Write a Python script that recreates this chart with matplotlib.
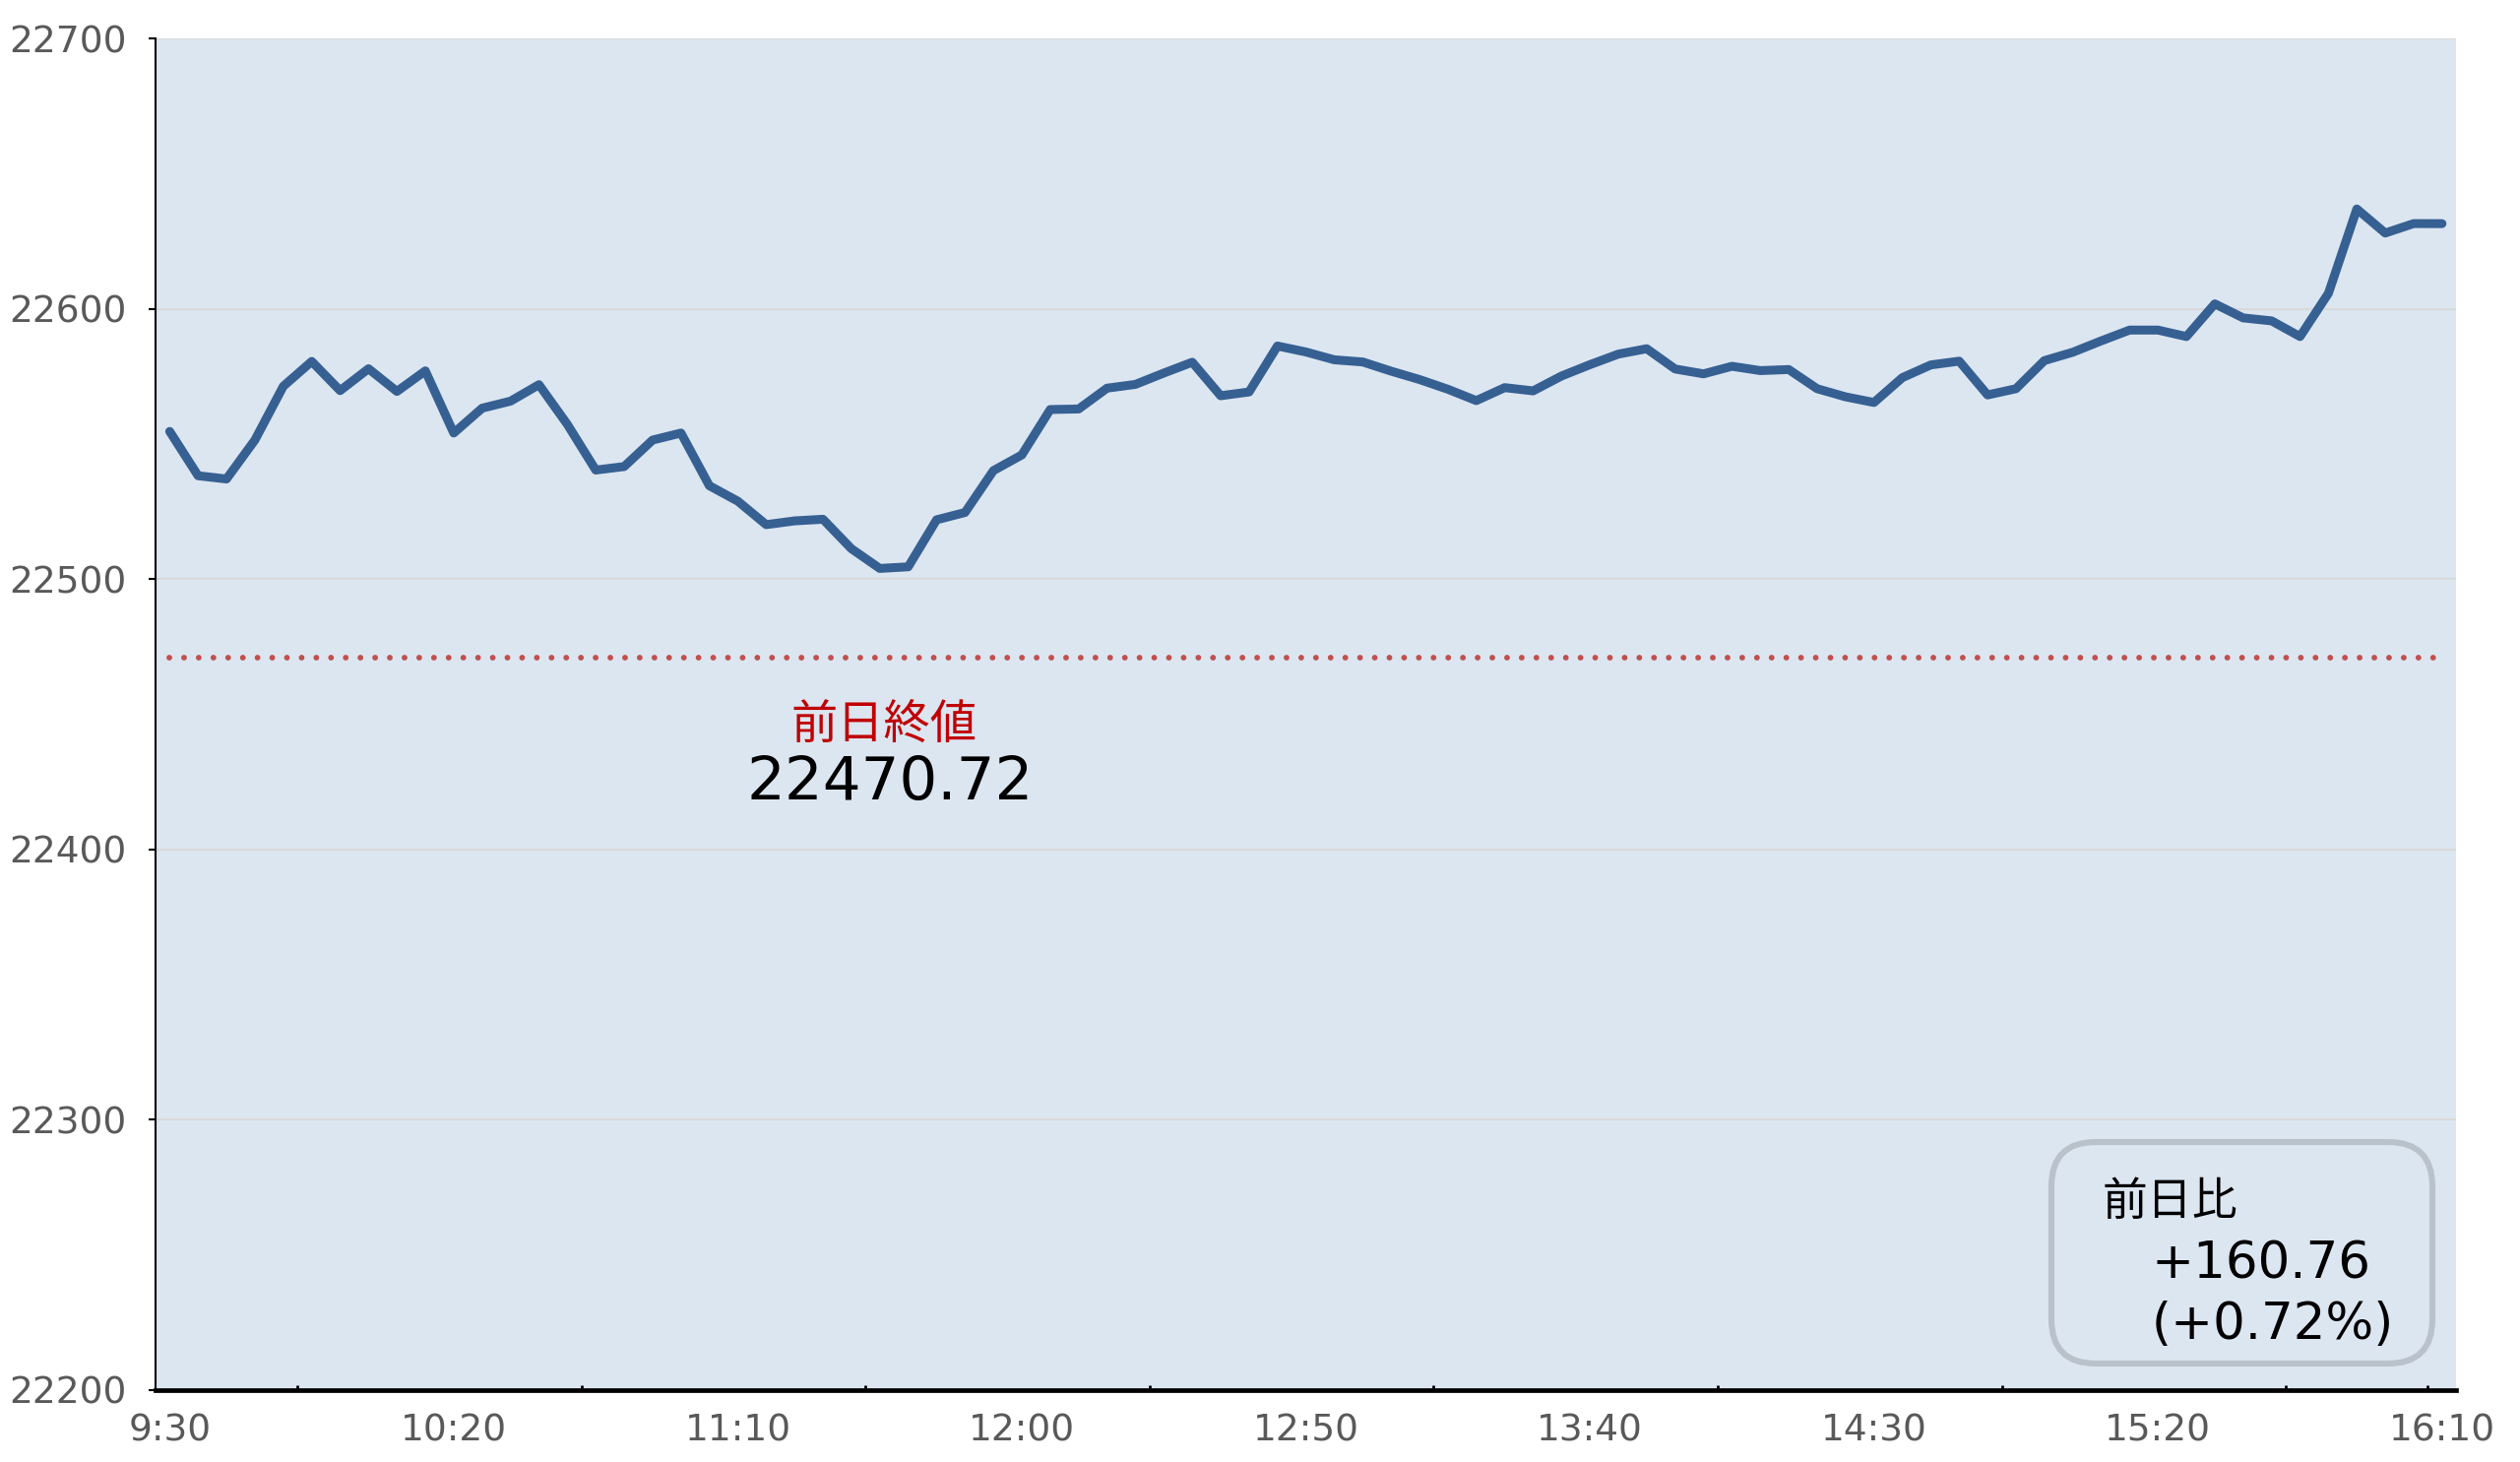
import matplotlib
matplotlib.use("Agg")
import matplotlib.pyplot as plt
from matplotlib.patches import FancyBboxPatch

plt.rcParams['font.family'] = ['DejaVu Sans', 'Noto Sans CJK JP']

# 5-minute index values, 9:30 .. 16:10
values = [
    22554.6, 22538.2, 22537.0, 22551.4, 22571.3, 22580.5, 22569.7, 22577.8, 22569.4, 22577.0,
    22554.0, 22563.2, 22565.8, 22571.9, 22557.2, 22540.3, 22541.6, 22551.4, 22554.0, 22534.5,
    22528.8, 22520.1, 22521.5, 22522.1, 22511.2, 22503.9, 22504.5, 22521.9, 22524.6, 22540.1,
    22545.9, 22562.7, 22562.9, 22570.6, 22572.0, 22576.2, 22580.2, 22567.8, 22569.2, 22586.2,
    22584.0, 22581.1, 22580.3, 22576.9, 22573.8, 22570.2, 22566.0, 22570.8, 22569.6, 22575.1,
    22579.3, 22583.2, 22585.2, 22577.7, 22575.9, 22578.7, 22577.1, 22577.5, 22570.4, 22567.4,
    22565.3, 22574.5, 22579.2, 22580.6, 22568.1, 22570.4, 22580.8, 22583.9, 22588.1, 22592.1,
    22592.1, 22589.7, 22601.8, 22596.6, 22595.5, 22589.7, 22605.7, 22636.9, 22628.0, 22631.5,
    22631.48,
]
tick_labels = ['9:30', '10:20', '11:10', '12:00', '12:50', '13:40', '14:30', '15:20', '16:10']
y_ticks = [22200, 22300, 22400, 22500, 22600, 22700]
prev_close = 22470.72
change = 160.76
change_pct = 0.72

fig = plt.figure(figsize=(25.6, 14.85), dpi=100)
ax = fig.add_axes([0.0617, 0.0494, 0.913, 0.9243])
ax.set_facecolor('#dce6f1')

x = list(range(len(values)))
ax.plot(x, values, color='#366092', lw=6.5, solid_joinstyle='round',
        solid_capstyle='round', zorder=3)
ax.plot([0, len(values) - 1], [prev_close, prev_close], color='#c0504d', lw=4.2,
        linestyle=(0, (0.01, 2.55)), dash_capstyle='round', zorder=2)

ax.set_xlim(-0.5, len(values) - 0.5)
ax.set_ylim(y_ticks[0], y_ticks[-1])
ax.set_yticks(y_ticks)
ax.set_xticks(range(0, len(values), 10))
ax.set_xticklabels(tick_labels)
ax.set_xticks([i + 4.5 for i in range(0, 80, 10)] + [79.5], minor=True)

ax.grid(axis='y', color='#d9d9d9', lw=1.5, zorder=0)
ax.set_axisbelow(True)
for s in ['top', 'right']:
    ax.spines[s].set_visible(False)
ax.spines['left'].set_linewidth(1.5)
ax.spines['bottom'].set_linewidth(3.4)

ax.tick_params(axis='y', labelsize=27, labelcolor='#595959', length=5, width=1.5, pad=16)
ax.tick_params(axis='x', which='major', labelsize=27, labelcolor='#595959', length=0, pad=17)
ax.tick_params(axis='x', which='minor', direction='in', length=3.6, width=2)

fig.text(0.3508, 0.5025, '前日終値', color='#c00000', fontsize=34, ha='center', va='center')
fig.text(0.3531, 0.4645, f'{prev_close:.2f}', color='black', fontsize=44, ha='center', va='center')

box = FancyBboxPatch((20.84, 1.0), 3.87, 2.25, boxstyle='round,pad=0,rounding_size=0.45',
                     transform=fig.dpi_scale_trans, facecolor='#dce6f1',
                     edgecolor='#b9c1ca', lw=4.4, zorder=5)
fig.add_artist(box)
fig.text(0.8344, 0.1775, '前日比', fontsize=33, ha='left', va='center', zorder=6)
fig.text(0.8537, 0.1350, f'+{change:.2f}', fontsize=37, ha='left', va='center', zorder=6)
fig.text(0.8537, 0.0935, f'(+{change_pct:.2f}%)', fontsize=37, ha='left', va='center', zorder=6)

fig.savefig('out.png', dpi=100, facecolor='white')
